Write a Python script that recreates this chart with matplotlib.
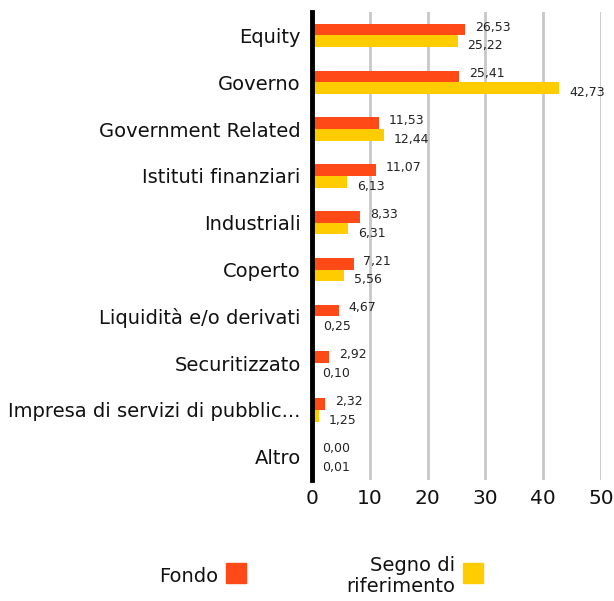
import matplotlib
matplotlib.use("Agg")
import matplotlib.pyplot as plt
from matplotlib.patches import Rectangle

categories = ["Equity", "Governo", "Government Related", "Istituti finanziari",
              "Industriali", "Coperto", "Liquidità e/o derivati", "Securitizzato",
              "Impresa di servizi di pubblic...", "Altro"]
fondo = [26.53, 25.41, 11.53, 11.07, 8.33, 7.21, 4.67, 2.92, 2.32, 0.00]
benchmark = [25.22, 42.73, 12.44, 6.13, 6.31, 5.56, 0.25, 0.10, 1.25, 0.01]
xticks = [0, 10, 20, 30, 40, 50]

C_FONDO = "#FF4A17"
C_BENCH = "#FFCC00"

plt.rcParams['font.family'] = ['DejaVu Sans']

fig = plt.figure(figsize=(6.14, 6.01), dpi=100)
ax = fig.add_axes([0.508, 0.201, 0.471, 0.779])

h = 0.25
ys = list(range(len(categories)))
ax.barh([y - h / 2 for y in ys], fondo, height=h, color=C_FONDO, zorder=3)
ax.barh([y + h / 2 for y in ys], benchmark, height=h, color=C_BENCH, zorder=3)

off = 1.7
for y, v in zip(ys, fondo):
    ax.text(v + off, y - 0.18, f"{v:.2f}".replace(".", ","), ha="left", va="center",
            fontsize=9, color="#222222")
for y, v in zip(ys, benchmark):
    ax.text(v + off, y + 0.22, f"{v:.2f}".replace(".", ","), ha="left", va="center",
            fontsize=9, color="#222222")

ax.set_xlim(0, 50)
ax.set_ylim(9.5, -0.5)
ax.set_yticks(ys)
ax.set_yticklabels(categories, fontsize=14, color="#111111")
ax.set_xticks(xticks)
ax.set_xticklabels([str(t) for t in xticks], fontsize=14.5, color="#111111")
ax.tick_params(axis="both", length=0)
ax.tick_params(axis="y", pad=8)
ax.tick_params(axis="x", pad=6)
for s in ["top", "right", "bottom"]:
    ax.spines[s].set_visible(False)
ax.spines["left"].set_linewidth(3.5)
ax.spines["left"].set_color("black")
ax.spines["left"].set_zorder(5)
ax.grid(axis="x", color="#c8c8c8", linewidth=2, zorder=0)
ax.grid(axis="y", visible=False)

# legend
fig.text(218 / 614, 1 - 576 / 601, "Fondo", ha="right", va="center", fontsize=14, color="#111111")
fig.patches.append(Rectangle((226 / 614, 1 - 583 / 601), 20 / 614, 20 / 601,
                             transform=fig.transFigure, color=C_FONDO, figure=fig))
fig.text(455 / 614, 1 - 576 / 601, "Segno di\nriferimento", ha="right", va="center",
         multialignment="right", fontsize=14, color="#111111", linespacing=1.15)
fig.patches.append(Rectangle((463 / 614, 1 - 583 / 601), 20 / 614, 20 / 601,
                             transform=fig.transFigure, color=C_BENCH, figure=fig))

fig.savefig("out.png", dpi=100)
